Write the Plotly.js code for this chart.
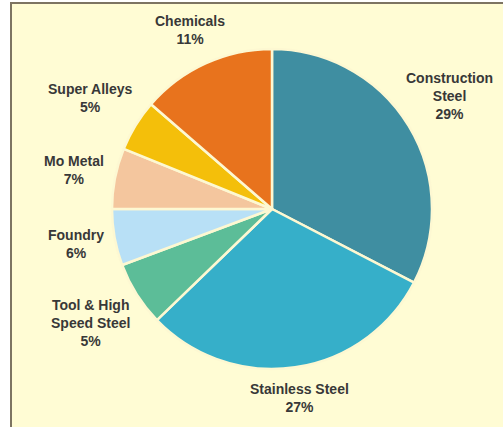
<!DOCTYPE html>
<html>
<head>
<meta charset="utf-8">
<script src="https://cdn.plot.ly/plotly-3.0.1.min.js"></script>
<style>
  html, body { margin: 0; padding: 0; background: #ffffff; }
  #wrap { position: absolute; left: 10px; top: 2px; width: 493px; height: 425px;
          border-left: 2px solid #7d7462; border-top: 2px solid #7d7462; box-sizing: border-box; }
  #chart { width: 491px; height: 423px; }
</style>
</head>
<body>
<div id="wrap"><div id="chart"></div></div>
<script>
// Categories in drawing order (clockwise from 12 o'clock)
const categories = ["Construction Steel", "Stainless Steel", "Tool & High Speed Steel",
                    "Foundry", "Mo Metal", "Super Alleys", "Chemicals"];
// Slice sizes as drawn (in degrees of the circle)
const sliceSizes = [117.4, 108.6, 23.5, 20.5, 22.1, 18.8, 49.1];
// Printed percentage labels
const printedPct = [29, 27, 5, 6, 7, 5, 11];
// Label text lines
const labelLines = [["Construction", "Steel"], ["Stainless Steel"], ["Tool & High", "Speed Steel"],
                    ["Foundry"], ["Mo Metal"], ["Super Alleys"], ["Chemicals"]];
const colors = ["#3f8ea1", "#36afc9", "#5cbd98", "#b8e0f6", "#f4c69e", "#f4bf0a", "#e8731d"];

const FONT_SIZE = 14;
const LINE_H = 15;        // effective px per text line used for placement
const PIE_R = 160;        // px, pie radius (plot area is 320x320)
const GAP = 9;            // px between pie edge and label box
const labelFont = { family: "Liberation Sans, Arial, sans-serif", size: FONT_SIZE, color: "#383838", weight: "bold" };

const ctx = document.createElement("canvas").getContext("2d");
ctx.font = "bold " + FONT_SIZE + "px 'Liberation Sans', Arial, sans-serif";

const trace = {
  type: "pie",
  labels: categories,
  values: sliceSizes,
  textinfo: "none",
  hoverinfo: "label+percent",
  sort: false,
  direction: "clockwise",
  rotation: 0,
  showlegend: false,
  domain: { x: [0, 1], y: [0, 1] },
  marker: { colors: colors, line: { color: "#fdf8d2", width: 2.5 } }
};

// Labels around the pie at each slice's middle angle, pushed out by the size of their box
const total = sliceSizes.reduce((a, b) => a + b, 0);
let cum = 0;
const annotations = sliceSizes.map((v, i) => {
  const mid = (cum + v / 2) / total * 2 * Math.PI;
  cum += v;
  const lines = labelLines[i].concat([printedPct[i] + "%"]);
  const hw = Math.max(...lines.map(s => ctx.measureText(s).width)) / 2;
  const hh = lines.length * LINE_H / 2;
  const sx = Math.sin(mid), cy = Math.cos(mid);
  const d = PIE_R + GAP + Math.abs(sx) * hw + Math.abs(cy) * hh;
  let dx = d * sx;
  const dy = d * cy;
  const maxDx = 221 - hw;               // keep the box inside the window
  if (dx > maxDx) dx = maxDx;
  if (dx < -(255 - hw)) dx = -(255 - hw);
  return {
    xref: "paper", yref: "paper",
    x: 0.5 + dx / (2 * PIE_R),
    y: 0.5 + dy / (2 * PIE_R),
    xanchor: "center", yanchor: "middle",
    text: lines.join("<br>"), showarrow: false, align: "center",
    font: labelFont
  };
});

const layout = {
  width: 491,
  height: 423,
  margin: { l: 100, r: 71, t: 45, b: 58 },
  paper_bgcolor: "#fffcd4",
  plot_bgcolor: "#fffcd4",
  showlegend: false,
  annotations: annotations
};

Plotly.newPlot("chart", [trace], layout, { displayModeBar: false, staticPlot: true });
</script>
</body>
</html>
